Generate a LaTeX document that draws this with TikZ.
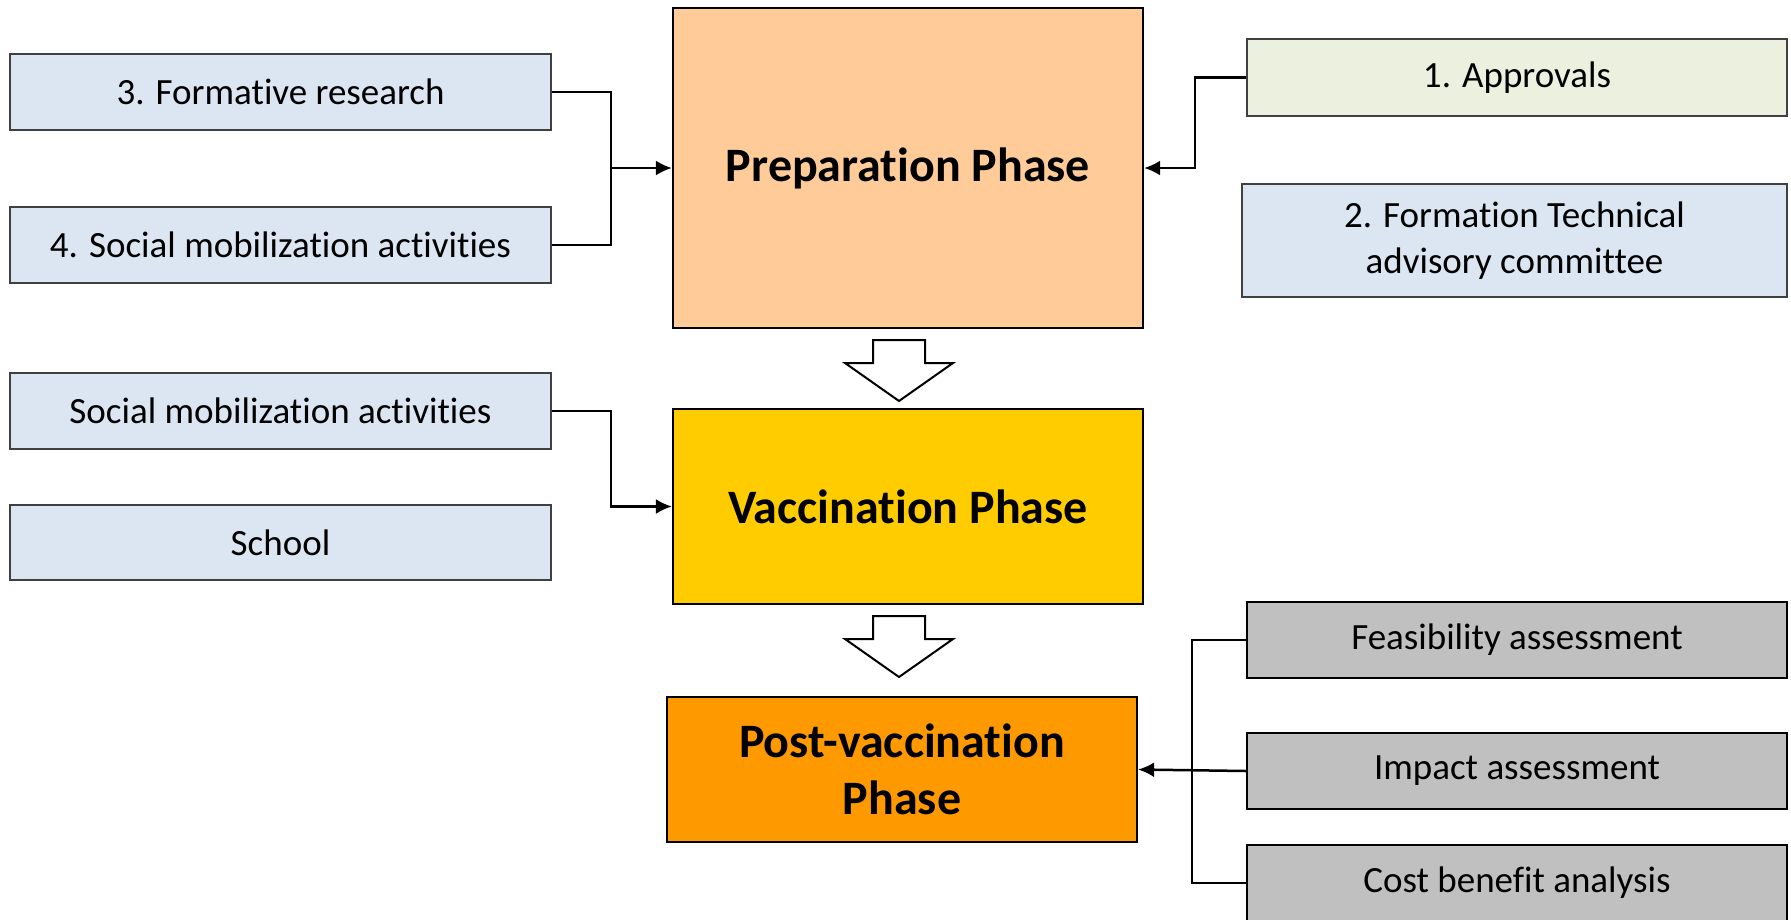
\documentclass[tikz,border=0pt]{standalone}
\usepackage{fontspec}
\setmainfont[Ligatures=NoCommon]{Carlito}
\usetikzlibrary{arrows.meta}

\definecolor{prepfill}{HTML}{FFCC99}
\definecolor{vaccfill}{HTML}{FFCC00}
\definecolor{postfill}{HTML}{FF9900}
\definecolor{bluefill}{HTML}{DCE6F2}
\definecolor{greenfill}{HTML}{EBF1DE}
\definecolor{grayfill}{HTML}{C0C0C0}

\begin{document}
\begin{tikzpicture}[x=1pt, y=-1pt,
    task/.style={draw=black!75, line width=1.6pt, minimum width=541pt, minimum height=76pt,
        inner sep=0pt, align=center, font=\fontsize{37}{46}\selectfont},
    phase/.style={draw=black, line width=2.2pt, minimum width=470pt, inner sep=0pt,
        align=center, font=\fontsize{48}{57}\selectfont\bfseries},
    link/.style={line width=2.5pt},
    arr/.style={link, -{Latex[length=16pt,width=15pt]}}]
    \useasboundingbox (0,0) rectangle (1791,919);

    % phases
    \node[phase, fill=prepfill, minimum height=320pt] (prep) at (908,168) {Preparation Phase};
    \node[phase, fill=vaccfill, minimum height=195pt] (vacc) at (908,506.5) {Vaccination Phase};
    \node[phase, fill=postfill, minimum height=145pt] (post) at (902,769.5) {Post-vaccination\\Phase};

    % left side
    \node[task, fill=bluefill] (formres) at (280.5,92) {3. Formative research};
    \node[task, fill=bluefill] (socmobfour) at (280.5,245) {4. Social mobilization activities};
    \node[task, fill=bluefill] (socmob) at (280.5,411) {Social mobilization activities};
    \node[task, fill=bluefill, minimum height=75pt] (school) at (280.5,542.5) {School};

    % right side
    \node[task, fill=greenfill, minimum width=540pt, minimum height=77pt] (approv) at (1517,77.5) {1. Approvals};
    \node[task, fill=bluefill, minimum width=545pt, minimum height=113pt] (tac) at (1514.5,240.5) {2. Formation Technical\\advisory committee};
    \node[task, fill=grayfill, draw=black, line width=2pt, minimum width=540pt] (feas) at (1517,640) {Feasibility assessment};
    \node[task, fill=grayfill, draw=black, line width=2pt, minimum width=540pt] (impact) at (1517,771) {Impact assessment};
    \node[task, fill=grayfill, draw=black, line width=2pt, minimum width=540pt] (cost) at (1517,883) {Cost benefit analysis};

    % connectors
    \coordinate (jprep) at (611,168);
    \draw[link] (formres.east) -| (jprep) |- (socmobfour.east);
    \draw[arr] (jprep) -- (prep.west);

    \coordinate (jappr) at (1195,168);
    \draw[arr] (approv.west) -| (jappr) -- (prep.east);

    \coordinate (jvacc) at (611,506.5);
    \draw[arr] (socmob.east) -| (jvacc) -- (vacc.west);

    \coordinate (jpost) at (1192,771);
    \draw[link] (feas.west) -| (jpost) |- (cost.west);
    \draw[arr] (impact.west) -- (post.east);

    % block arrows between phases
    \foreach \t in {340,616} {
        \draw[fill=white, line width=2pt, line join=miter]
            (873,\t) -- (925,\t) -- (925,\t+23) -- (953,\t+23) -- (899,\t+61)
            -- (845,\t+23) -- (873,\t+23) -- cycle;
    }
\end{tikzpicture}
\end{document}
